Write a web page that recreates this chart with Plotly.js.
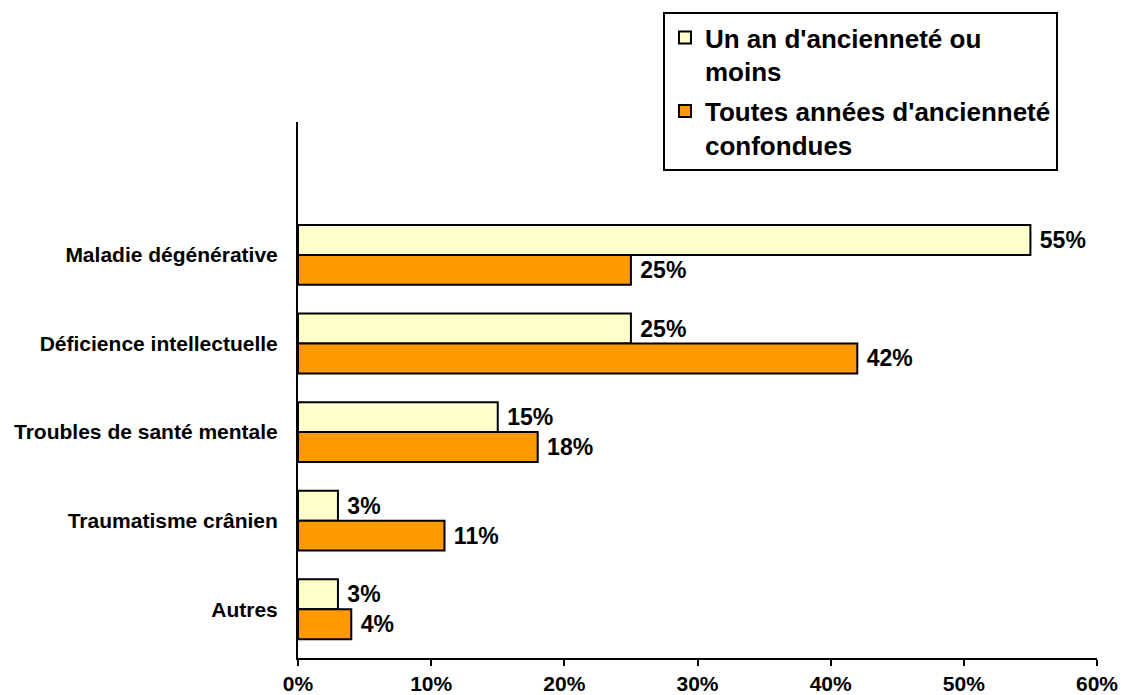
<!DOCTYPE html>
<html>
<head>
<meta charset="utf-8">
<script src="https://cdn.plot.ly/plotly-3.0.1.min.js"></script>
<style>
  html, body { margin: 0; padding: 0; background: #ffffff; }
  #chart { width: 1125px; height: 695px; }
</style>
</head>
<body>
<div id="chart"></div>
<script>
// Categories, top to bottom
const categories = [
  'Maladie dégénérative',
  'Déficience intellectuelle',
  'Troubles de santé mentale',
  'Traumatisme crânien',
  'Autres'
];

// Shares (%) per seniority group
const seriesNames = [
  "Un an d'ancienneté ou<br>moins",
  "Toutes années d'ancienneté<br>confondues"
];
const unAnOuMoins = [55, 25, 15, 3, 3];
const toutesAnnees = [25, 42, 18, 11, 4];

// x-axis ticks
const xTickVals = [0, 10, 20, 30, 40, 50, 60];

const FONT = 'Liberation Sans, Arial, sans-serif';

function barTrace(name, values, color, group) {
  return {
    type: 'bar',
    orientation: 'h',
    name: name,
    legendgroup: group,
    y: categories,
    x: values,
    // a non-breaking space keeps the value label clear of the bar end
    text: values.map(v => '\u00a0' + v + '%'),
    textposition: 'outside',
    constraintext: 'none',
    cliponaxis: false,
    textfont: { family: FONT, size: 23, color: '#000000', weight: 'bold' },
    marker: { color: color, line: { color: '#000000', width: 2 } },
    hoverinfo: 'skip'
  };
}

const data = [
  barTrace(seriesNames[0], unAnOuMoins, '#FFFFCC', 'a'),
  barTrace(seriesNames[1], toutesAnnees, '#FF9900', 'b')
];

const layout = {
  width: 1125,
  height: 695,
  margin: { l: 298, r: 28, t: 119, b: 37, pad: 0 },
  paper_bgcolor: '#ffffff',
  plot_bgcolor: '#ffffff',
  barmode: 'group',
  bargap: 0.324,
  bargroupgap: 0,
  font: { family: FONT, size: 21, color: '#000000', weight: 'bold' },
  xaxis: {
    range: [0, 60],
    tickvals: xTickVals,
    ticktext: xTickVals.map(v => v + '%'),
    showgrid: false,
    zeroline: false,
    showline: true,
    linecolor: '#000000',
    linewidth: 2,
    ticks: 'outside',
    ticklen: 6,
    tickwidth: 2,
    tickcolor: '#000000',
    tickfont: { family: FONT, size: 21, color: '#000000', weight: 'bold' },
    automargin: false,
    fixedrange: true
  },
  yaxis: {
    type: 'category',
    categoryorder: 'array',
    categoryarray: categories,
    range: [4.55, -1.5],
    showgrid: false,
    zeroline: false,
    showline: true,
    linecolor: '#000000',
    linewidth: 2,
    ticks: '',
    ticklabelstandoff: 14,
    tickfont: { family: FONT, size: 21, color: '#000000', weight: 'bold' },
    automargin: false,
    fixedrange: true
  },
  legend: {
    x: 0.4568,
    y: 1.205,
    xanchor: 'left',
    yanchor: 'top',
    bgcolor: '#ffffff',
    bordercolor: '#000000',
    borderwidth: 2,
    traceorder: 'grouped',
    tracegroupgap: 3,
    valign: 'top',
    itemwidth: 30,
    font: { family: FONT, size: 26, color: '#000000', weight: 'bold' }
  },
  showlegend: true
};

Plotly.newPlot('chart', data, layout, { displayModeBar: false, staticPlot: true });
</script>
</body>
</html>
